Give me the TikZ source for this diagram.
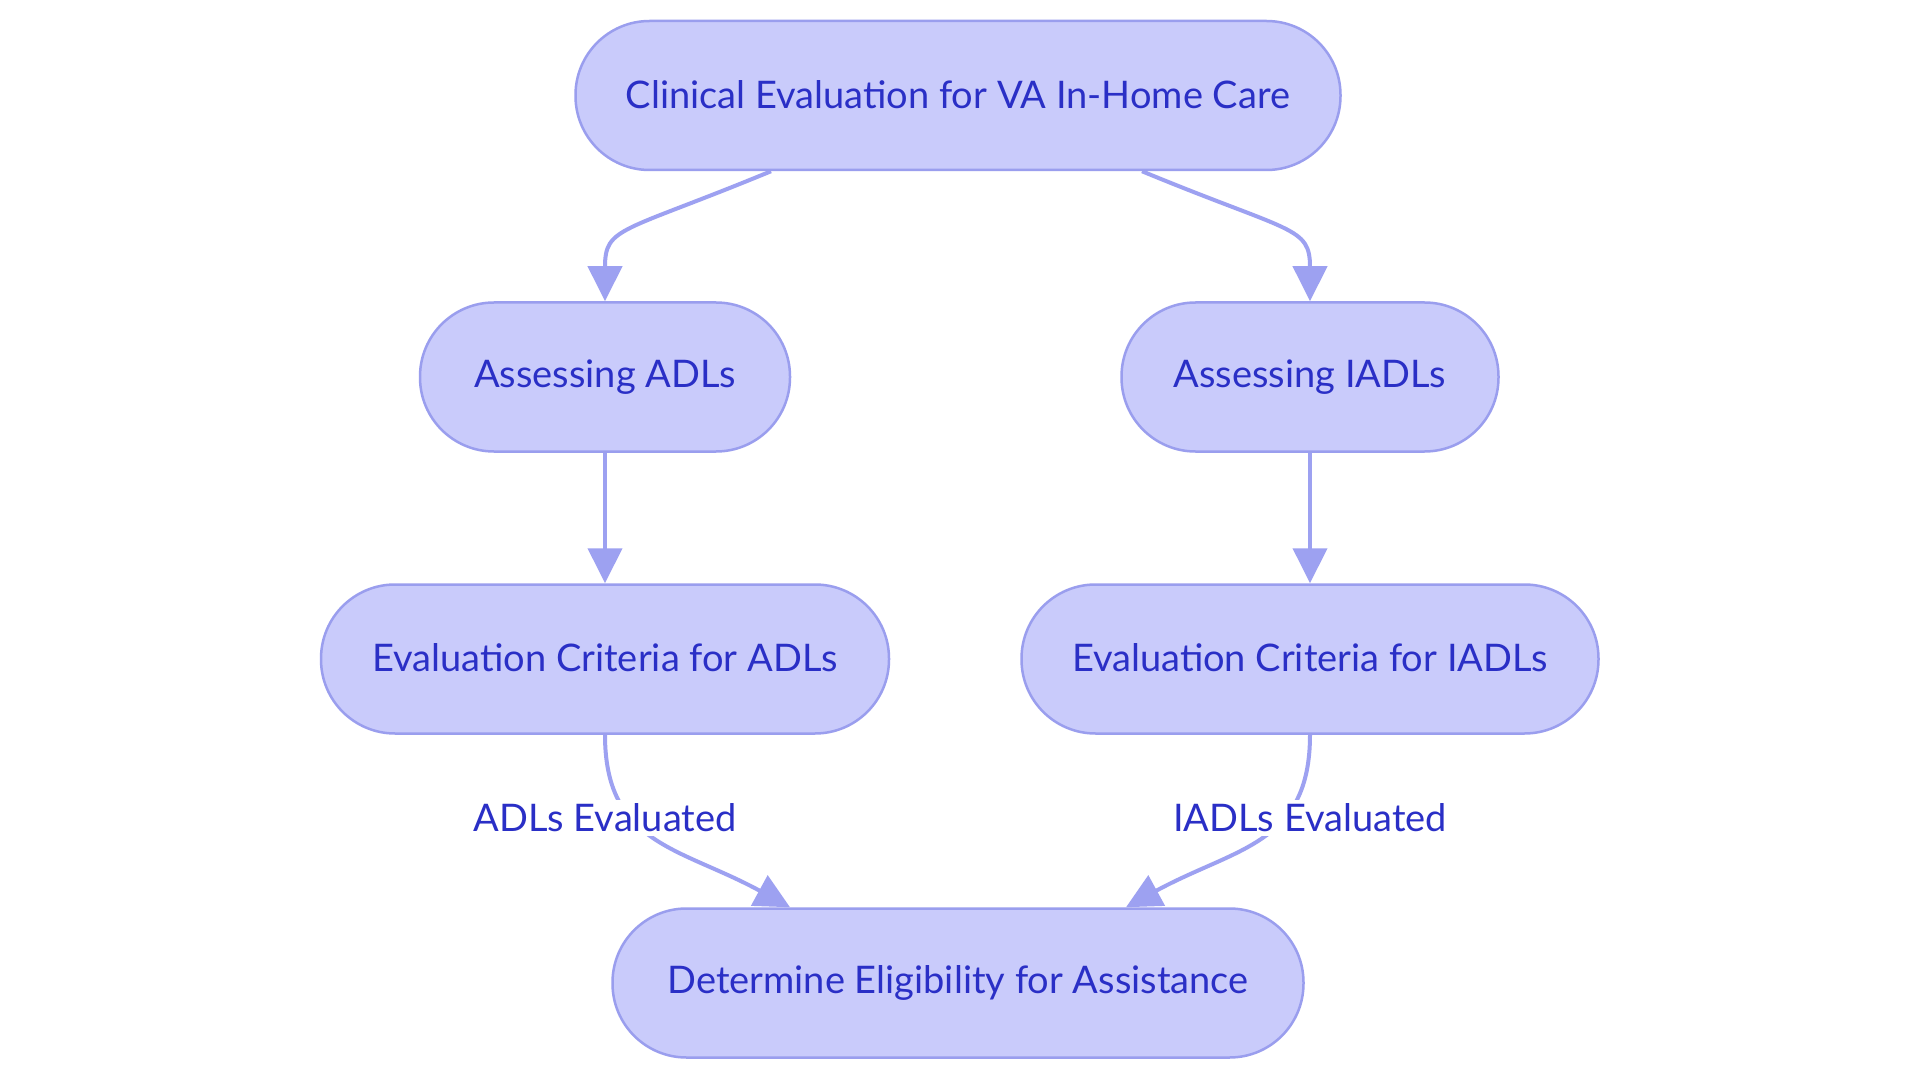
\documentclass[tikz,border=0pt]{standalone}
\usepackage{fontspec}
\setmainfont{Lato}
\usetikzlibrary{arrows.meta,backgrounds}
\definecolor{nodefill}{HTML}{C9CBFB}
\definecolor{nodeline}{HTML}{9A9EEE}
\definecolor{txtblue}{HTML}{2A2FC6}
\definecolor{edgeblue}{HTML}{9DA1F1}
\begin{document}
\begin{tikzpicture}[x=1pt,y=-1pt,
  box/.style={draw=nodeline, line width=2.5pt, fill=nodefill, rounded corners=74pt,
    minimum height=149pt, inner sep=0pt, text=txtblue, font=\fontsize{38}{46}\selectfont},
  conn/.style={draw=edgeblue, line width=4pt, -{Triangle[length=35pt,width=34pt]}},
  lbl/.style={fill=white, text=txtblue, inner sep=4pt, font=\fontsize{38}{46}\selectfont}]
\begin{pgfonlayer}{background}
\fill[white] (0,0) rectangle (1920,1083);
\end{pgfonlayer}
\useasboundingbox (0,0) rectangle (1920,1083);
\node[box, minimum width=765pt] (top) at (958,95.5) {\raisebox{2pt}{Clinical Evaluation for VA In-Home Care}};
\node[box, minimum width=370pt] (a1) at (605,377) {\raisebox{2pt}{Assessing ADLs}};
\node[box, minimum width=377pt] (a2) at (1310,377) {\raisebox{2pt}{Assessing IADLs}};
\node[box, minimum width=568pt] (e1) at (605,659) {\raisebox{2pt}{Evaluation Criteria for ADLs}};
\node[box, minimum width=577pt] (e2) at (1310,659) {\raisebox{2pt}{Evaluation Criteria for IADLs}};
\node[box, minimum width=691pt] (d) at (958,983) {\raisebox{2pt}{Determine Eligibility for Assistance}};

\begin{pgfonlayer}{background}
\draw[conn] ([xshift=-187pt]top.south) .. controls +(-150,62) and +(0,-75) .. (a1.north);
\draw[conn] ([xshift=184pt]top.south) .. controls +(150,62) and +(0,-75) .. (a2.north);
\draw[conn] (a1.south) -- (e1.north);
\draw[conn] (a2.south) -- (e2.north);
\draw[conn] (e1.south) .. controls +(0,110) and +(-110,-60) .. ([xshift=-168pt]d.north);
\draw[conn] (e2.south) .. controls +(0,110) and +(110,-60) .. ([xshift=168pt]d.north);
\end{pgfonlayer}
\node[lbl] (l1) at (605,818) {ADLs Evaluated};
\node[lbl] (l2) at (1310,818) {IADLs Evaluated};
\end{tikzpicture}
\end{document}
